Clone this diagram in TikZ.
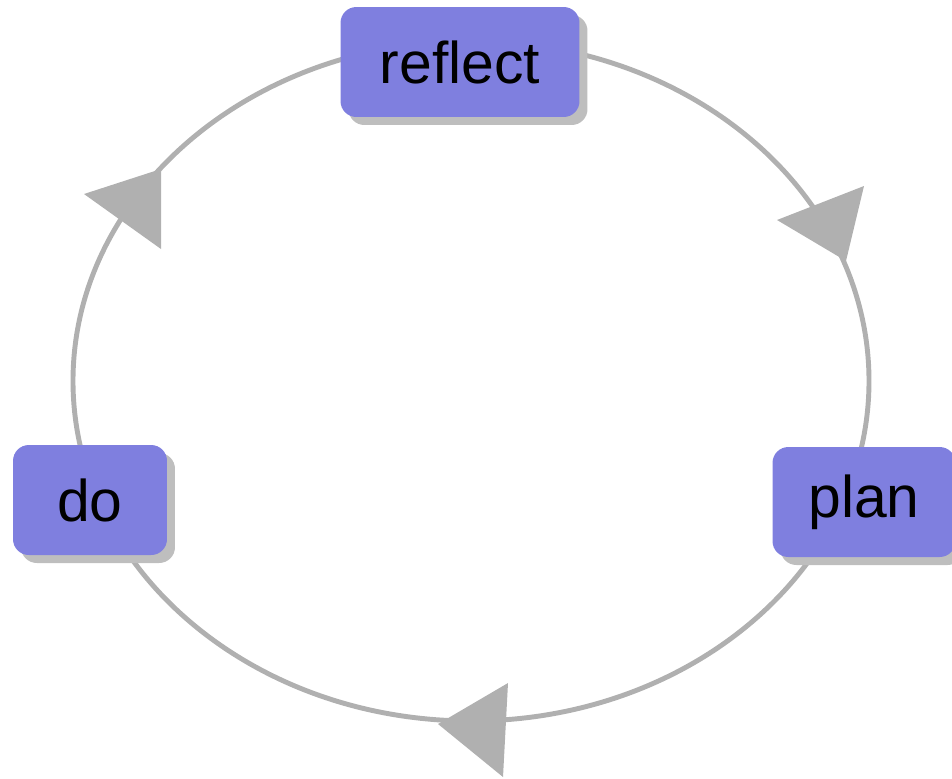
\documentclass[tikz,border=0pt]{standalone}
\usepackage{fontspec}
\setmainfont{Liberation Sans}
\usetikzlibrary{positioning,shadows}
\definecolor{stageC}{RGB}{127,127,223}
\definecolor{shadeC}{RGB}{190,190,190}
\definecolor{loopC}{RGB}{176,176,176}
\tikzset{
	stage/.style={rounded corners=9pt, fill=stageC, minimum height=2.2cm,
		inner sep=0pt, font=\fontsize{33.5}{40}\selectfont,
		drop shadow={shadow xshift=0.16cm, shadow yshift=-0.16cm,
			fill=shadeC, opacity=1}},
	cycleline/.style={draw=loopC, line width=2.8pt},
	tiphead/.style={fill=loopC},
}

\begin{document}
\begin{tikzpicture}[x=0.02cm, y=-0.02cm]
		\useasboundingbox (0,0) rectangle (952,778);
		
		% ================= Cycle =================
		\coordinate (hub) at (471,381);
		\draw[cycleline] (hub) ellipse[x radius=398, y radius=340];
		
		% arrow heads along the cycle
		\fill[tiphead] (777,220) -- (864,186) -- (846,261) -- cycle;
		\fill[tiphead] (508,683) -- (503,777) -- (438,724) -- cycle;
		\fill[tiphead] (84,194) -- (161,169) -- (161,249) -- cycle;
		
		% ================= Stages =================
		\node[stage, minimum width=4.78cm] (reflect) at (460,62) {reflect};
		\node[stage, minimum width=3.66cm] (plan) at (864,502) {plan};
		\node[stage, minimum width=3.08cm] (do) at (90,500) {do};
		
	\end{tikzpicture}
\end{document}
